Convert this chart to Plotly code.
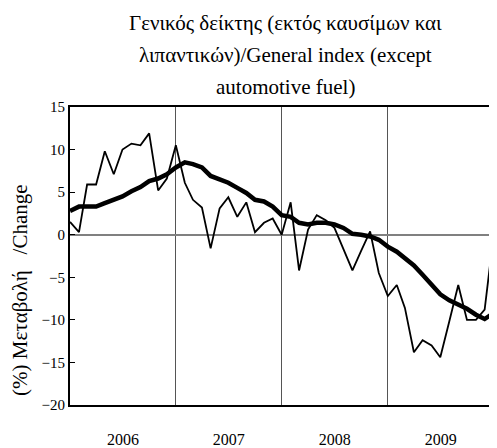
import pandas as pd
import plotly.graph_objects as go

# monthly series, Jan 2006 .. Jan 2010
months = pd.date_range("2006-01-01", periods=49, freq="MS")

annual_change = [
    1.5, 0.3, 5.9, 5.9, 9.8, 7.1, 10.0, 10.7, 10.5, 11.9, 5.2, 6.6,
    10.5, 6.1, 4.1, 3.2, -1.6, 3.1, 4.4, 2.1, 3.8, 0.3, 1.4, 1.9,
    0.0, 3.8, -4.2, 0.6, 2.3, 1.7, 0.8, -1.7, -4.2, -1.9, 0.4, -4.5,
    -7.2, -5.9, -8.6, -13.8, -12.4, -13.0, -14.4, -10.2, -5.9, -10.0, -10.0, -8.8,
    0.0,
]

moving_avg = [
    2.8, 3.3, 3.3, 3.3, 3.7, 4.1, 4.5, 5.1, 5.6, 6.3, 6.6, 7.1,
    7.9, 8.5, 8.3, 7.9, 6.9, 6.5, 6.1, 5.5, 4.9, 4.1, 3.9, 3.3,
    2.3, 2.1, 1.4, 1.2, 1.4, 1.4, 1.2, 0.8, 0.1, 0.0, -0.2, -0.6,
    -1.4, -2.0, -2.7, -3.6, -4.7, -5.8, -7.0, -7.7, -8.2, -8.7, -9.4, -9.9,
    -9.2,
]

title_lines = [
    "Γενικός δείκτης (εκτός καυσίμων και",
    "λιπαντικών)/General index (except",
    "automotive fuel)",
]

FONT = "Liberation Serif"
PLOT_W = 419  # plot area width in px
PLOT_H = 298

fig = go.Figure()

fig.add_trace(go.Scatter(
    x=months, y=annual_change,
    mode="lines",
    line=dict(color="black", width=1.8),
    showlegend=False,
))

fig.add_trace(go.Scatter(
    x=months, y=moving_avg,
    mode="lines",
    line=dict(color="black", width=4.5),
    showlegend=False,
))

# page body keeps an 8px margin, figure fills the rest
fig.update_layout(
    width=481, height=440,
    margin=dict(l=62, r=0, t=99, b=43),
    plot_bgcolor="white",
    paper_bgcolor="white",
    font=dict(family=FONT, size=15, color="black"),
    showlegend=False,
)

fig.update_xaxes(
    type="date",
    range=["2006-01-01", "2009-12-16"],
    dtick="M12",
    tick0="2006-01-01",
    tickformat="%Y",
    ticklabelmode="period",
    ticks="",
    ticklabelstandoff=19,
    showgrid=True,
    gridcolor="#555555",
    gridwidth=1,
    showline=True,
    linecolor="black",
    linewidth=2,
    mirror=True,
    tickfont=dict(size=16),
)

fig.update_yaxes(
    range=[-20, 15],
    dtick=5,
    ticks="inside",
    ticklen=5,
    tickcolor="black",
    showgrid=False,
    zeroline=True,
    zerolinecolor="#808080",
    zerolinewidth=1.5,
    showline=True,
    linecolor="black",
    linewidth=2,
    mirror=False,
    tickfont=dict(size=15),
)

# title, one annotation per line to keep the wide line spacing
for txt, ypix in zip(title_lines, [23, 55, 87]):
    fig.add_annotation(
        text=txt, xref="paper", yref="paper",
        x=(285 - 70) / PLOT_W, y=(405 - ypix) / PLOT_H,
        xanchor="center", yanchor="middle",
        showarrow=False, font=dict(family=FONT, size=21),
    )

fig.add_annotation(
    text="(%) Μεταβολή   /Change", xref="paper", yref="paper",
    x=(20 - 70) / PLOT_W, y=(405 - 290) / PLOT_H,
    xanchor="center", yanchor="middle", textangle=-90,
    showarrow=False, font=dict(family=FONT, size=21),
)

fig.write_html("out.html")
